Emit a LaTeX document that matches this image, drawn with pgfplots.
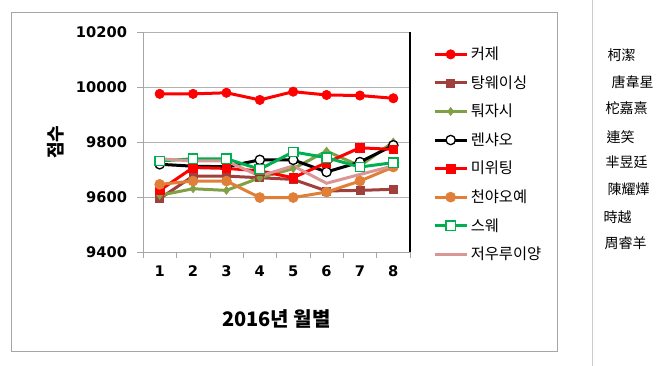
\documentclass[border=0pt]{standalone}
\usepackage{fontspec}
\usepackage{pgfplots}
\pgfplotsset{compat=1.18}
\setmainfont{Liberation Sans}
\newfontfamily\kr{Noto Sans CJK KR}
\newfontfamily\tc{Noto Sans CJK TC}
\newfontfamily\numfont{DejaVu Sans}
\definecolor{cRed}{RGB}{255,0,0}
\definecolor{cBrown}{RGB}{160,64,60}
\definecolor{cOlive}{RGB}{128,160,70}
\definecolor{cOrange}{RGB}{224,128,56}
\definecolor{cGreen}{RGB}{0,176,80}
\definecolor{cPink}{RGB}{217,150,148}
\begin{document}
\begin{tikzpicture}
\begin{scope}[x=0.75pt,y=0.75pt]
\path[use as bounding box] (0,0) rectangle (666,366);
\draw[gray!70] (11,15) rectangle (557,354);
\draw[gray!40] (592,0) -- (592,366);
\begin{scope}[font=\tc\fontsize{10.5}{12}\selectfont]
\node[anchor=west] at (603,311) {柯潔};
\node[anchor=west] at (607,284) {唐韋星};
\node[anchor=west] at (601,258) {柁嘉熹};
\node[anchor=west] at (602,229) {連笑};
\node[anchor=west] at (601,204) {芈昱廷};
\node[anchor=west] at (603,177) {陳耀燁};
\node[anchor=west] at (599,149) {時越};
\node[anchor=west] at (600,123) {周睿羊};
\end{scope}
\end{scope}
\begin{axis}[
  at={(107.25pt,85.5pt)}, anchor=south west,
  scale only axis, width=200.25pt, height=165pt,
  xmin=0.5, xmax=8.5, ymin=9400, ymax=10200,
  xtick={1,...,8},
  minor xtick={0.5,1.5,...,8.5},
  major x tick style={draw=none},
  minor x tick style={gray!70},
  ytick={9400,9600,...,10200},
  scaled ticks=false,
  yticklabel={\pgfmathprintnumber[fixed,precision=0,1000 sep={}]{\tick}},
  y tick style={gray!70},
  tick align=outside,
  major tick length=4.5pt, minor tick length=4.5pt,
  axis x line*=bottom, axis y line*=left,
  axis line style={gray!70,-},
  ymajorgrids, grid style={gray!60},
  /pgf/number format/assume math mode=true,
  /pgf/number format/1000 sep={},
  tick label style={font=\numfont\bfseries\fontsize{11}{13}\selectfont},
  yticklabel style={xshift=-4pt},
  xticklabel style={yshift=-2pt},
  xlabel={\kr\bfseries\fontsize{15}{17}\selectfont 2016년 월별},
  xlabel style={yshift=-18pt},
  ylabel={\kr\bfseries\fontsize{13.5}{15}\selectfont 점수},
  ylabel style={yshift=2pt},
  every axis plot/.append style={line width=2.25pt},
  legend style={at={(1.086,0.945)}, anchor=north west, draw=none, fill=none,
    font=\kr\fontsize{11.5}{13}\selectfont, cells={anchor=west}, row sep=6.4pt,
    inner sep=0pt},
  legend image code/.code={\draw[mark repeat=2,mark phase=2] plot coordinates {(0cm,0cm)(0.42cm,0cm)(0.84cm,0cm)};},
  clip=false,
]
\addplot[cRed, mark=*, mark size=3.5pt, mark options={fill=cRed, line width=0.5pt}] coordinates {
(1,9975)(2,9975)(3,9979)(4,9953)(5,9983)(6,9971)(7,9969)(8,9959)};
\addlegendentry{커제}
\addplot[cBrown, mark=square*, mark size=3pt, mark options={fill=cBrown, line width=0.5pt}] coordinates {
(1,9594)(2,9676)(3,9676)(4,9670)(5,9664)(6,9622)(7,9624)(8,9628)};
\addlegendentry{탕웨이싱}
\addplot[cOlive, mark=diamond*, mark size=3pt, mark options={fill=cOlive, line width=0.5pt}] coordinates {
(1,9606)(2,9630)(3,9624)(4,9670)(5,9703)(6,9767)(7,9713)(8,9800)};
\addlegendentry{퉈자시}
\addplot[black, mark=*, mark size=3.5pt, mark options={fill=white, line width=1pt}] coordinates {
(1,9719)(2,9712)(3,9710)(4,9735)(5,9735)(6,9691)(7,9727)(8,9788)};
\addlegendentry{렌샤오}
\addplot[cRed, mark=square*, mark size=3.2pt, mark options={fill=cRed, line width=0.5pt}] coordinates {
(1,9624)(2,9707)(3,9704)(4,9695)(5,9670)(6,9725)(7,9779)(8,9773)};
\addlegendentry{미위팅}
\addplot[cOrange, mark=*, mark size=3.75pt, mark options={fill=cOrange, line width=0.5pt}] coordinates {
(1,9646)(2,9658)(3,9658)(4,9598)(5,9598)(6,9618)(7,9658)(8,9709)};
\addlegendentry{천야오예}
\addplot[cGreen, mark=square*, mark size=3.5pt, mark options={fill=white, line width=1pt}] coordinates {
(1,9731)(2,9739)(3,9739)(4,9701)(5,9764)(6,9743)(7,9709)(8,9725)};
\addlegendentry{스웨}
\addplot[cPink, no marks] coordinates {
(1,9739)(2,9731)(3,9731)(4,9676)(5,9713)(6,9650)(7,9682)(8,9713)};
\addlegendentry{저우루이양}
\draw[black, line width=1.5pt] (rel axis cs:1,0) -- (rel axis cs:1,1);
\end{axis}
\end{tikzpicture}
\end{document}
